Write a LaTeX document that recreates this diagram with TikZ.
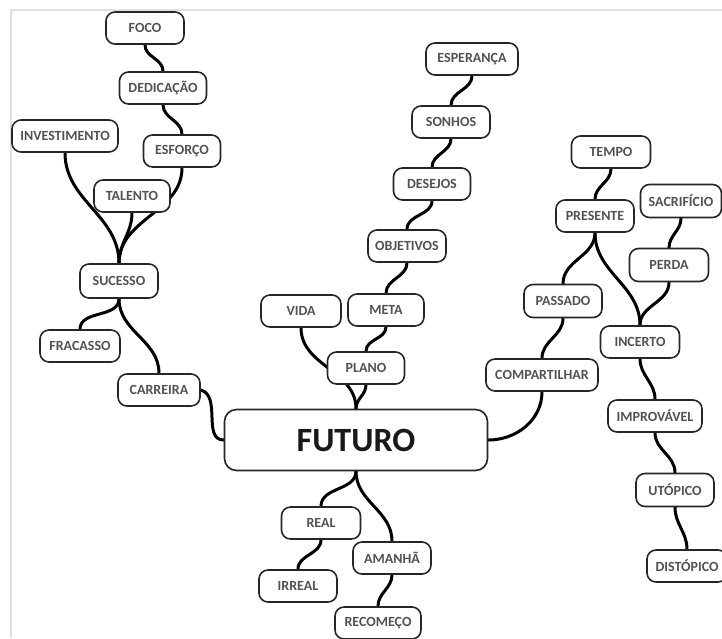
\documentclass[tikz,border=0pt]{standalone}
\usepackage{fontspec}
\setmainfont{Carlito}
\usetikzlibrary{backgrounds}
\tikzset{
  box/.style={draw=black!85, line width=1.6pt, rounded corners=9pt, fill=white,
    minimum height=32pt, inner sep=1pt, font=\fontsize{14}{15}\selectfont\bfseries, text=black!68},
  bigbox/.style={box, rounded corners=12pt, minimum height=61pt,
    font=\fontsize{34}{36}\selectfont\bfseries, text=black!90},
  link/.style={draw=black, line width=3pt, line cap=round},
  frameline/.style={draw=black!12, line width=1.2pt}
}
\begin{document}
\begin{tikzpicture}[x=1pt,y=-1pt]
\useasboundingbox (0,0) rectangle (722,638);
\coordinate (f1) at (11,638);
\coordinate (f2) at (11,10);
\coordinate (f3) at (722,10);
\draw[frameline] (f1) -- (f2) -- (f3);
% nodes
\node[box, minimum width=78pt] (foco) at (145,28) {FOCO};
\node[box, minimum width=87pt] (ded) at (163,88) {DEDICAÇÃO};
\node[box, minimum width=106pt] (inv) at (65,136) {INVESTIMENTO};
\node[box, minimum width=77pt] (esf) at (182,151) {ESFORÇO};
\node[box, minimum width=76pt] (tal) at (132,196) {TALENTO};
\node[box, minimum width=78pt, minimum height=34pt] (suc) at (119,281) {SUCESSO};
\node[box, minimum width=80pt] (fra) at (80,346) {FRACASSO};
\node[box, minimum width=82pt] (car) at (159,390) {CARREIRA};
\node[bigbox, minimum width=263pt] (fut) at (356,440) {FUTURO};
\node[box, minimum width=80pt] (vida) at (301,311) {VIDA};
\node[box, minimum width=76pt] (meta) at (386,310) {META};
\node[box, minimum width=77pt] (plano) at (366,368) {PLANO};
\node[box, minimum width=78pt] (obj) at (407,246) {OBJETIVOS};
\node[box, minimum width=77pt] (des) at (432,184) {DESEJOS};
\node[box, minimum width=78pt] (son) at (451,122) {SONHOS};
\node[box, minimum width=92pt] (esp) at (472,59) {ESPERANÇA};
\node[box, minimum width=79pt] (tempo) at (611,152) {TEMPO};
\node[box, minimum width=78pt] (pres) at (595,216) {PRESENTE};
\node[box, minimum width=81pt, minimum height=33pt] (sac) at (681,201) {SACRIFÍCIO};
\node[box, minimum width=79pt, minimum height=33pt] (perda) at (669,265) {PERDA};
\node[box, minimum width=78pt, minimum height=33pt] (pas) at (563,301) {PASSADO};
\node[box, minimum width=79pt] (inc) at (640,342) {INCERTO};
\node[box, minimum width=112pt] (comp) at (542,375) {COMPARTILHAR};
\node[box, minimum width=94pt] (imp) at (655,416) {IMPROVÁVEL};
\node[box, minimum width=78pt, minimum height=33pt] (uto) at (675,490) {UTÓPICO};
\node[box, minimum width=80pt] (dis) at (687,566) {DISTÓPICO};
\node[box, minimum width=79pt] (real) at (321,523) {REAL};
\node[box, minimum width=78pt] (aman) at (392,558) {AMANHÃ};
\node[box, minimum width=78pt] (irr) at (298,586) {IRREAL};
\node[box, minimum width=86pt] (rec) at (378,623) {RECOMEÇO};
% connectors
\begin{scope}[on background layer]
\draw[link] (foco.south) to[out=-90,in=90] (ded.north);
\draw[link] (ded.south) to[out=-90,in=90] (esf.north);
\draw[link] (esf.south) to[out=-90,in=90] (suc.north);
\draw[link] (tal.south) to[out=-90,in=90] (suc.north);
\draw[link] (inv.south) to[out=-90,in=90] (suc.north);
\draw[link] (suc.south) to[out=-90,in=90] (fra.north);
\draw[link] (suc.south) to[out=-90,in=90] (car.north);
\draw[link] (car.east) to[out=-15,in=180] (fut.west);
\draw[link] (vida.south) to[out=-90,in=90] (fut.north);
\draw[link] (plano.south) to[out=-90,in=90] (fut.north);
\draw[link] (meta.south) to[out=-90,in=90] (plano.north);
\draw[link] (obj.south) to[out=-90,in=90] (meta.north);
\draw[link] (des.south) to[out=-90,in=90] (obj.north);
\draw[link] (son.south) to[out=-90,in=90] (des.north);
\draw[link] (esp.south) to[out=-90,in=90] (son.north);
\draw[link] (fut.east) to[out=0,in=-90] (comp.south);
\draw[link] (comp.north) to[out=90,in=-90] (pas.south);
\draw[link] (pas.north) to[out=90,in=-90] (pres.south);
\draw[link] (pres.north) to[out=90,in=-90] (tempo.south);
\draw[link] (pres.south) to[out=-90,in=90] (inc.north);
\draw[link] (perda.south) to[out=-90,in=90] (inc.north);
\draw[link] (sac.south) to[out=-90,in=90] (perda.north);
\draw[link] (inc.south) to[out=-90,in=90] (imp.north);
\draw[link] (imp.south) to[out=-90,in=90] (uto.north);
\draw[link] (uto.south) to[out=-90,in=90] (dis.north);
\draw[link] (fut.south) to[out=-90,in=90] (real.north);
\draw[link] (fut.south) to[out=-90,in=90] (aman.north);
\draw[link] (real.south) to[out=-90,in=90] (irr.north);
\draw[link] (aman.south) to[out=-90,in=90] (rec.north);
\end{scope}
\end{tikzpicture}
\end{document}
